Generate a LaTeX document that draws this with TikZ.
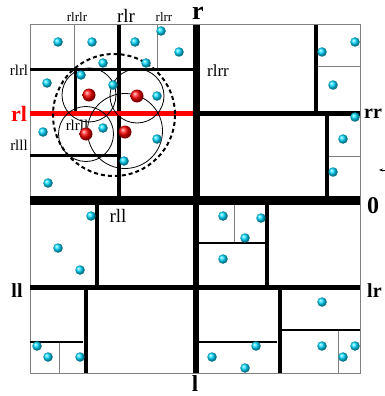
\documentclass[tikz,border=0pt]{standalone}
\usepackage{fontspec}
\setmainfont{Liberation Serif}
\usetikzlibrary{arrows.meta}
\begin{document}
\begin{tikzpicture}[x=1pt,y=-1pt,line cap=butt,
  cyanball/.style={circle,shading=ball,ball color=cyan!85!blue,minimum size=9.5pt,inner sep=0pt},
  redball/.style={circle,shading=ball,ball color=red,minimum size=13pt,inner sep=0pt},
  thinsplit/.style={draw=gray,line width=1pt},
  split/.style={draw=black,line width=#1},
  lab/.style={inner sep=0pt,font=\fontsize{#1}{#1}\selectfont},
  blab/.style={inner sep=0pt,font=\fontsize{#1}{#1}\selectfont\bfseries},
  ring/.style={draw=black,line width=0.8pt},
]
\clip (0,0) rectangle (385,396);
\useasboundingbox (0,0) rectangle (385,396);
\fill[white] (0,0) rectangle (385,396);

% outer border
\draw[gray,line width=1pt] (30,25) rectangle (360,373);

% thin gray splits
\draw[thinsplit] (74,25) -- (74,68);
\draw[thinsplit] (157,25) -- (157,68);
\draw[thinsplit] (318,67) -- (360,67);
\draw[thinsplit] (329,156) -- (360,156);
\draw[thinsplit] (59,342) -- (59,373);
\draw[thinsplit] (234,204) -- (234,242);
\draw[thinsplit] (338,331) -- (338,373);

% black splits
\draw[split=3pt] (30,69.5) -- (193,69.5);
\draw[split=3pt] (75.5,69) -- (75.5,111);
\draw[split=3pt] (30,155) -- (117,155);
\draw[split=4pt] (119,25) -- (119,196);
\draw[split=4pt] (316,25) -- (316,111);
\draw[split=4pt] (327,115) -- (327,196);
\draw[split=5pt] (200,113) -- (360,113);
\draw[split=4pt] (96.5,204) -- (96.5,285);
\draw[split=4pt] (85.5,289) -- (85.5,373);
\draw[split=2.5pt] (30,342) -- (83,342);
\draw[split=4pt] (267,204) -- (267,285);
\draw[split=2.5pt] (199,243) -- (265,243);
\draw[split=4pt] (279.5,289) -- (279.5,373);
\draw[split=2.5pt] (282,330) -- (360,330);
\draw[split=2.5pt] (199,342) -- (277,342);
\draw[split=5pt] (30,287) -- (193,287);
\draw[split=5pt] (199,287) -- (360,287);
\draw[split=7pt] (196.5,25) -- (196.5,200);
\draw[split=6pt] (196,200) -- (196,373);
\draw[split=9pt] (30,200) -- (360,200);
\draw[draw=red,line width=5pt] (30,113) -- (193,113);

% rings
\draw[ring] (89,95) circle (27);
\draw[ring] (137,96) circle (27);
\draw[ring] (86,134) circle (27.5);
\draw[ring] (125,131) circle (37.5);
\draw[line width=2pt,dash pattern=on 4pt off 3pt] (114,115) circle (61);

% labels
\node[blab=26] (lr0) at (198,13) {r};
\node[lab=19] (lrlr) at (126,16) {rlr};
\node[lab=13] (lrlrlr) at (77,17) {rlrlr};
\node[lab=13] (lrlrrt) at (164,17) {rlrr};
\node[lab=15] (lrlrl) at (19,70) {rlrl};
\node[blab=22,text=red] (lrl) at (19,114) {rl};
\node[lab=15] (lrlll) at (19,145) {rlll};
\node[lab=15] (lrlrll) at (77,125) {rlrll};
\node[lab=17] (lrlrr) at (218,71) {rlrr};
\node[lab=19] (lrll) at (118,216) {rll};
\node[blab=20] (lll) at (17,291) {ll};
\node[blab=23] (ll) at (195,384) {l};
\node[blab=24,anchor=west] (lzero) at (367,206) {0};
\node[blab=20,anchor=west] (lrr) at (364,114) {rr};
\node[blab=20,anchor=west] (llr) at (367,291) {lr};
\coordinate (arrA) at (395,170);
\coordinate (arrB) at (379,170);
\draw[-{Stealth[length=4pt,width=3pt]},line width=0.6pt] (arrA) -- (arrB);

% cyan balls
\foreach \i/\p in {1/{(58,42)},2/{(92,42)},3/{(135,42)},4/{(161,31)},5/{(179,52)},
  6/{(103,63)},7/{(146,63)},8/{(81,75)},9/{(47,83)},10/{(113,85)},11/{(157,96)},
  12/{(43,132)},13/{(103,128)},14/{(157,139)},15/{(124,161)},16/{(48,183)},
  17/{(355,42)},18/{(322,52)},19/{(333,85)},20/{(355,117)},21/{(343,139)},22/{(333,172)},
  23/{(91,216)},24/{(58,248)},25/{(80,270)},26/{(37,346)},27/{(48,357)},28/{(80,357)},
  29/{(223,216)},30/{(261,218)},31/{(245,238)},32/{(223,259)},33/{(322,302)},
  34/{(256,346)},35/{(212,357)},36/{(245,368)},37/{(322,346)},38/{(355,346)},39/{(343,357)}}
  \node[cyanball] (c\i) at \p {};

% red balls
\node[redball] (r1) at (89,95) {};
\node[redball] (r2) at (137,96) {};
\node[redball] (r3) at (86,134) {};
\node[redball] (r4) at (125,132) {};
\end{tikzpicture}
\end{document}
